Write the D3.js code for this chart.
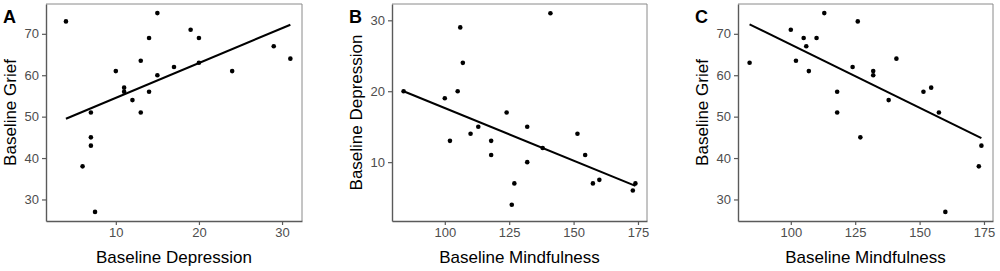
<!DOCTYPE html>
<html>
<head>
<meta charset="utf-8">
<script src="https://cdn.jsdelivr.net/npm/d3@7"></script>
<style>
  body { margin: 0; background: #fff; }
  svg { display: block; font-family: "Liberation Sans", Arial, sans-serif; }
</style>
</head>
<body>
<svg id="chart" width="1000" height="271"></svg>
<script>
// baseline scores, one entry per participant
const depression = [20, 15, 4, 19, 20, 14, 29, 13, 24, 17, 31, 10, 15, 13, 11, 12, 14, 11, 7, 7, 7, 6, 7.5];
const mindfulness = [84, 113, 126, 100, 105, 110, 106, 102, 107, 124, 141, 132, 132, 118, 118, 138, 151.5, 154.5, 157.5, 127, 174, 173, 160];
const grief = [63, 75, 73, 71, 69, 69, 67, 63.5, 61, 62, 64, 61, 60, 51, 56, 54, 56, 57, 51, 45, 43, 38, 27];

// fitted line ends: [x start, y start, x end, y end]
const fitA = [4, 49.5, 31, 72.2];
const fitB = [84, 20.0, 174, 6.65];
const fitC = [84, 72.3, 174, 44.8];

const griefTicks = [30, 40, 50, 60, 70];
const depressionTicks = [10, 20, 30];
const mindfulnessTicks = [100, 125, 150, 175];

const panels = [
  { letter: "A", x: depression, y: grief, fit: fitA, xLabel: "Baseline Depression", yLabel: "Baseline Grief",
    xDomain: [1.6, 32.4], yDomain: [24.8, 77.2], xTicks: depressionTicks, yTicks: griefTicks,
    left: 46, right: 302 },
  { letter: "B", x: mindfulness, y: depression, fit: fitB, xLabel: "Baseline Mindfulness", yLabel: "Baseline Depression",
    xDomain: [79.5, 178.5], yDomain: [1.7, 32.3], xTicks: mindfulnessTicks, yTicks: depressionTicks,
    left: 392, right: 647 },
  { letter: "C", x: mindfulness, y: grief, fit: fitC, xLabel: "Baseline Mindfulness", yLabel: "Baseline Grief",
    xDomain: [79.5, 178.5], yDomain: [24.8, 77.2], xTicks: mindfulnessTicks, yTicks: griefTicks,
    left: 738, right: 993 }
];

const plotTop = 4, plotBottom = 221;
const svg = d3.select("#chart");

panels.forEach(p => {
  const x = d3.scaleLinear().domain(p.xDomain).range([p.left, p.right]);
  const y = d3.scaleLinear().domain(p.yDomain).range([plotBottom, plotTop]);
  const g = svg.append("g");

  // light border on top and right
  g.append("path")
    .attr("d", `M${p.left},${plotTop}H${p.right}V${plotBottom}`)
    .attr("fill", "none")
    .attr("stroke", "#8a8a8a")
    .attr("stroke-width", 1);

  const xAxis = g.append("g")
    .attr("transform", `translate(0,${plotBottom})`)
    .call(d3.axisBottom(x).tickValues(p.xTicks).tickSize(4).tickPadding(3).tickSizeOuter(0));
  const yAxis = g.append("g")
    .attr("transform", `translate(${p.left},0)`)
    .call(d3.axisLeft(y).tickValues(p.yTicks).tickSize(4).tickPadding(3).tickSizeOuter(0));

  [xAxis, yAxis].forEach(a => {
    a.select(".domain").attr("stroke", "#5a5a5a").attr("stroke-width", 1.4);
    a.selectAll(".tick line").attr("stroke", "#5a5a5a").attr("stroke-width", 1.2);
    a.selectAll(".tick text")
      .attr("fill", "#4d4d4d")
      .attr("font-size", 13)
      .attr("font-family", "Liberation Sans, Arial, sans-serif");
  });

  // regression line
  g.append("line")
    .attr("x1", x(p.fit[0])).attr("y1", y(p.fit[1]))
    .attr("x2", x(p.fit[2])).attr("y2", y(p.fit[3]))
    .attr("stroke", "#000")
    .attr("stroke-width", 2);

  g.selectAll(".dot")
    .data(p.x.map((v, i) => [v, p.y[i]]))
    .enter()
    .append("circle")
      .classed("dot", true)
      .attr("cx", d => x(d[0]))
      .attr("cy", d => y(d[1]))
      .attr("r", 2.3)
      .attr("fill", "#000");

  g.append("text")
    .attr("x", (p.left + p.right) / 2)
    .attr("y", 263)
    .attr("text-anchor", "middle")
    .attr("font-size", 17)
    .text(p.xLabel);

  g.append("text")
    .attr("transform", `translate(${p.left - 30},${(plotTop + plotBottom) / 2}) rotate(-90)`)
    .attr("text-anchor", "middle")
    .attr("font-size", 17)
    .text(p.yLabel);

  g.append("text")
    .attr("x", p.left - 43)
    .attr("y", 23)
    .attr("font-size", 18)
    .attr("font-weight", "bold")
    .text(p.letter);
});
</script>
</body>
</html>
